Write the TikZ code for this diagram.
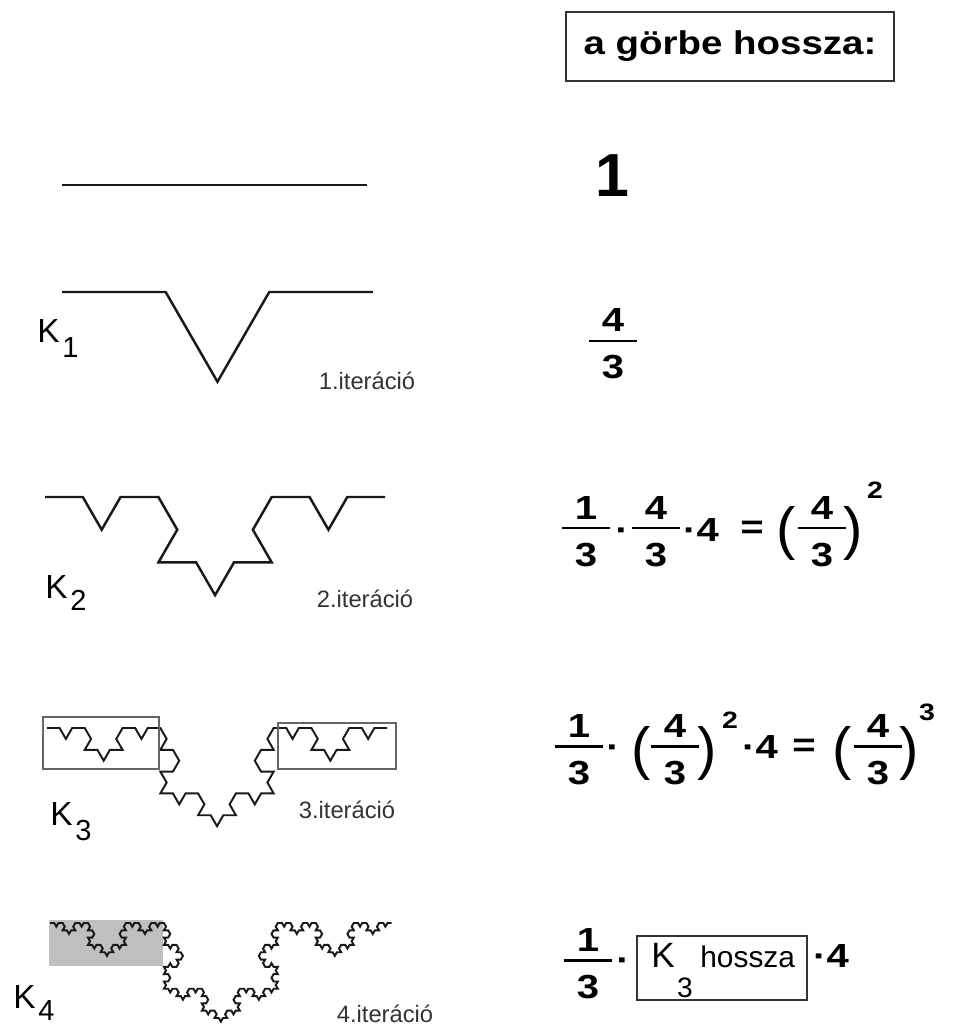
\documentclass[tikz,border=0pt]{standalone}
\usepackage{fontspec}
\setmainfont{Liberation Sans}
\newfontfamily\eqfont[FakeStretch=1.2]{Liberation Sans}
\newfontfamily\fejfont[FakeStretch=1.17]{Liberation Sans}
\usetikzlibrary{lindenmayersystems,calc}

\pgfdeclarelindenmayersystem{Koch}{\rule{F -> F-F++F-F}}

\tikzset{
  koch/.style={draw=black!90, line join=miter, line width=#1},
  szam/.style={font=\eqfont\bfseries\fontsize{19}{19}\selectfont, inner sep=0pt, anchor=base},
  kitevo/.style={font=\eqfont\bfseries\fontsize{13.5}{13.5}\selectfont, inner sep=0pt, anchor=base},
  zarojel/.style={font=\fontsize{33}{33}\selectfont, inner sep=0pt, anchor=base},
  torthuzas/.style={line width=1.7pt},
  cimke/.style={font=\fontsize{19}{19}\selectfont, inner sep=0pt, anchor=base west},
  iter/.style={font=\fontsize{13.5}{13.5}\selectfont, text=black!80, inner sep=0pt, anchor=base},
  keret/.style={draw=black!80, line width=0.7pt},
}

\newcommand\Kindex[2]{K\kern1.5pt\raisebox{-#2}{\fontsize{16.5}{16.5}\selectfont #1}}

% tort: name, x, y of the bar, numerator, denominator
\newcommand\tort[5]{%
  \coordinate (#1) at (#2,#3);
  \coordinate (#1b) at ($(#1)+(-24,0)$);
  \coordinate (#1j) at ($(#1)+(24,0)$);
  \node[szam] (#1n) at ($(#1)+(0,-9)$) {#4};
  \node[szam] (#1d) at ($(#1)+(0,38)$) {#5};
  \draw[torthuzas] (#1b) -- (#1j);}

\begin{document}
\begin{tikzpicture}[x=0.02cm, y=-0.02cm]
\path[fill=white] (0,0) rectangle (954,1026);
\useasboundingbox (0,0) rectangle (954,1026);

% left column: the curves
\draw[koch=1.4pt] (62,185) -- (367,185);
\begin{scope}[shift={(62,292)}]
\draw[koch=1.4pt, l-system={Koch, axiom=F, order=1, step=2.073cm, angle=60}] (0,0) lindenmayer system;
\end{scope}
\begin{scope}[shift={(45,497)}]
\draw[koch=1.4pt, l-system={Koch, axiom=F, order=2, step=0.756cm, angle=60}] (0,0) lindenmayer system;
\end{scope}
\begin{scope}[shift={(47,728)}]
\draw[koch=1.1pt, l-system={Koch, axiom=F, order=3, step=0.2519cm, angle=60}] (0,0) lindenmayer system;
\end{scope}
\fill[black!25] (49,920) rectangle (163,966);
\begin{scope}[shift={(50,923)}]
\draw[koch=1.1pt, l-system={Koch, axiom=F, order=4, step=0.0844cm, angle=60}] (0,0) lindenmayer system;
\end{scope}
\draw[draw=black!60, line width=1.1pt] (43,717) rectangle (159,769);
\draw[draw=black!60, line width=1.1pt] (278,723) rectangle (396,769);

\node[cimke] (K1) at (37,343) {\Kindex{1}{8pt}};
\node[cimke] (K2) at (45,598) {\Kindex{2}{7pt}};
\node[cimke] (K3) at (50,825) {\Kindex{3}{9pt}};
\node[cimke] (K4) at (13,1008) {\Kindex{4}{7pt}};

\node[iter] (it1) at (367,390) {1.iteráció};
\node[iter] (it2) at (365,607) {2.iteráció};
\node[iter] (it3) at (347,818) {3.iteráció};
\node[iter] (it4) at (385,1022) {4.iteráció};

% right column: the lengths
\node[keret, minimum width=6.56cm, minimum height=1.38cm, inner sep=0pt,
  font=\fejfont\bfseries\fontsize{18.7}{18.7}\selectfont] (fejlec) at (730,46.5) {a görbe hossza:};

\node[anchor=base, inner sep=0pt, font=\bfseries\fontsize{34.6}{34.6}\selectfont] (h0) at (612,197) {1};

\tort{b}{613}{341}{4}{3}

\tort{c1}{586}{528}{1}{3}
\node[szam] (cp1) at (622,541) {·};
\tort{c2}{656}{528}{4}{3}
\node[szam] (c4) at (701,541) {·4};
\node[szam] (ceq) at (752,538) {=};
\node[zarojel] (cz1) at (786,548) {(};
\tort{c3}{822}{528}{4}{3}
\node[zarojel] (cz2) at (853,548) {)};
\node[kitevo] (ck) at (875,498) {2};

\tort{d1}{579}{746}{1}{3}
\node[szam] (dp1) at (613,758) {·};
\node[zarojel] (dz1) at (641,768) {(};
\tort{d2}{675}{746}{4}{3}
\node[zarojel] (dz2) at (707,768) {)};
\node[kitevo] (dk1) at (730,728) {2};
\node[szam] (d4) at (760,758) {·4};
\node[szam] (deq) at (804,756) {=};
\node[zarojel] (dz3) at (842,768) {(};
\tort{d3}{878}{746}{4}{3}
\node[zarojel] (dz4) at (909,768) {)};
\node[kitevo] (dk2) at (927,720) {3};

\tort{e1}{588}{960}{1}{3}
\node[szam] (ep1) at (623,971) {·};
\draw[keret, line width=0.6pt] (637,936) rectangle (807,1000);
\node[anchor=base west, inner sep=0pt, font=\fontsize{20}{20}\selectfont] (eK) at (651,967) {K};
\node[anchor=base, inner sep=0pt, font=\fontsize{16}{16}\selectfont] (e3) at (685,997) {3};
\node[anchor=base west, inner sep=0pt, font=\fontsize{17}{17}\selectfont] (eh) at (700,967) {hossza};
\node[szam] (e4) at (831,967) {·4};
\end{tikzpicture}
\end{document}
